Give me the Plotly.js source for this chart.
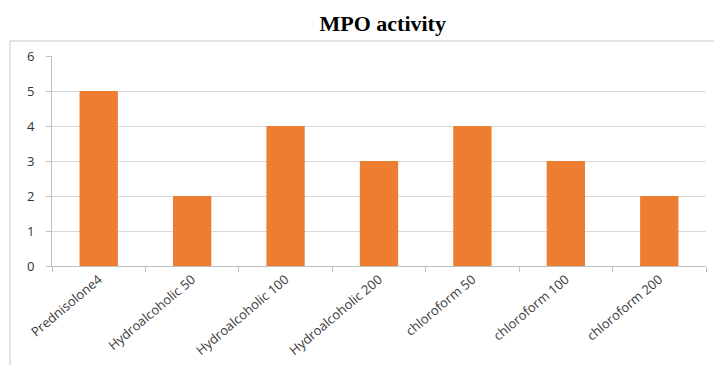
<!DOCTYPE html>
<html>
<head>
<meta charset="utf-8">
<script src="https://cdn.plot.ly/plotly-3.0.1.min.js"></script>
<style>html,body{margin:0;padding:0;background:#fff;}#chart{width:714px;height:365px;}</style>
</head>
<body>
<div id="chart"></div>
<script>
const categories = ["Prednisolone4", "Hydroalcoholic 50", "Hydroalcoholic 100", "Hydroalcoholic 200", "chloroform 50", "chloroform 100", "chloroform 200"];
const values = [5, 2, 4, 3, 4, 3, 2];
const yTicks = [0, 1, 2, 3, 4, 5, 6];

const trace = {
  type: 'bar',
  x: categories,
  y: values,
  marker: {color: '#ED7D31'},
  hoverinfo: 'x+y'
};

const layout = {
  width: 714,
  height: 365,
  margin: {l: 52, r: 8, t: 56, b: 99},
  paper_bgcolor: '#ffffff',
  plot_bgcolor: '#ffffff',
  bargap: 0.59,
  showlegend: false,
  title: {
    text: '<b>MPO activity</b>',
    font: {family: '"Liberation Serif", "Times New Roman", serif', size: 22, color: '#000000'},
    x: 0.536, xanchor: 'center', y: 0.935, yanchor: 'middle'
  },
  xaxis: {
    type: 'category',
    tickangle: -40,
    tickfont: {family: '"Open Sans", "Liberation Sans", sans-serif', size: 13, color: '#3a3a3a'},
    showline: true, linecolor: '#bfbfbf', linewidth: 1,
    ticks: 'outside', ticklen: 5, tickcolor: '#bfbfbf', tickson: 'boundaries',
    showgrid: false, zeroline: false, fixedrange: true
  },
  yaxis: {
    range: [0, 6],
    tickvals: yTicks,
    ticktext: yTicks.map(String),
    tickfont: {family: '"Open Sans", "Liberation Sans", sans-serif', size: 13, color: '#333333'},
    ticklabelstandoff: 9,
    showline: true, linecolor: '#bfbfbf', linewidth: 1,
    ticks: 'outside', ticklen: 5, tickcolor: '#bfbfbf',
    showgrid: true, gridcolor: '#d9d9d9', gridwidth: 1,
    zeroline: false, fixedrange: true
  },
  shapes: [{
    type: 'rect', xref: 'paper', yref: 'paper',
    x0: -0.0642, x1: 1.02, y0: -0.5, y1: 1.0714,
    line: {color: '#c8c8c8', width: 1}, fillcolor: 'rgba(0,0,0,0)'
  }]
};

Plotly.newPlot('chart', [trace], layout, {displayModeBar: false, staticPlot: true});
</script>
</body>
</html>
